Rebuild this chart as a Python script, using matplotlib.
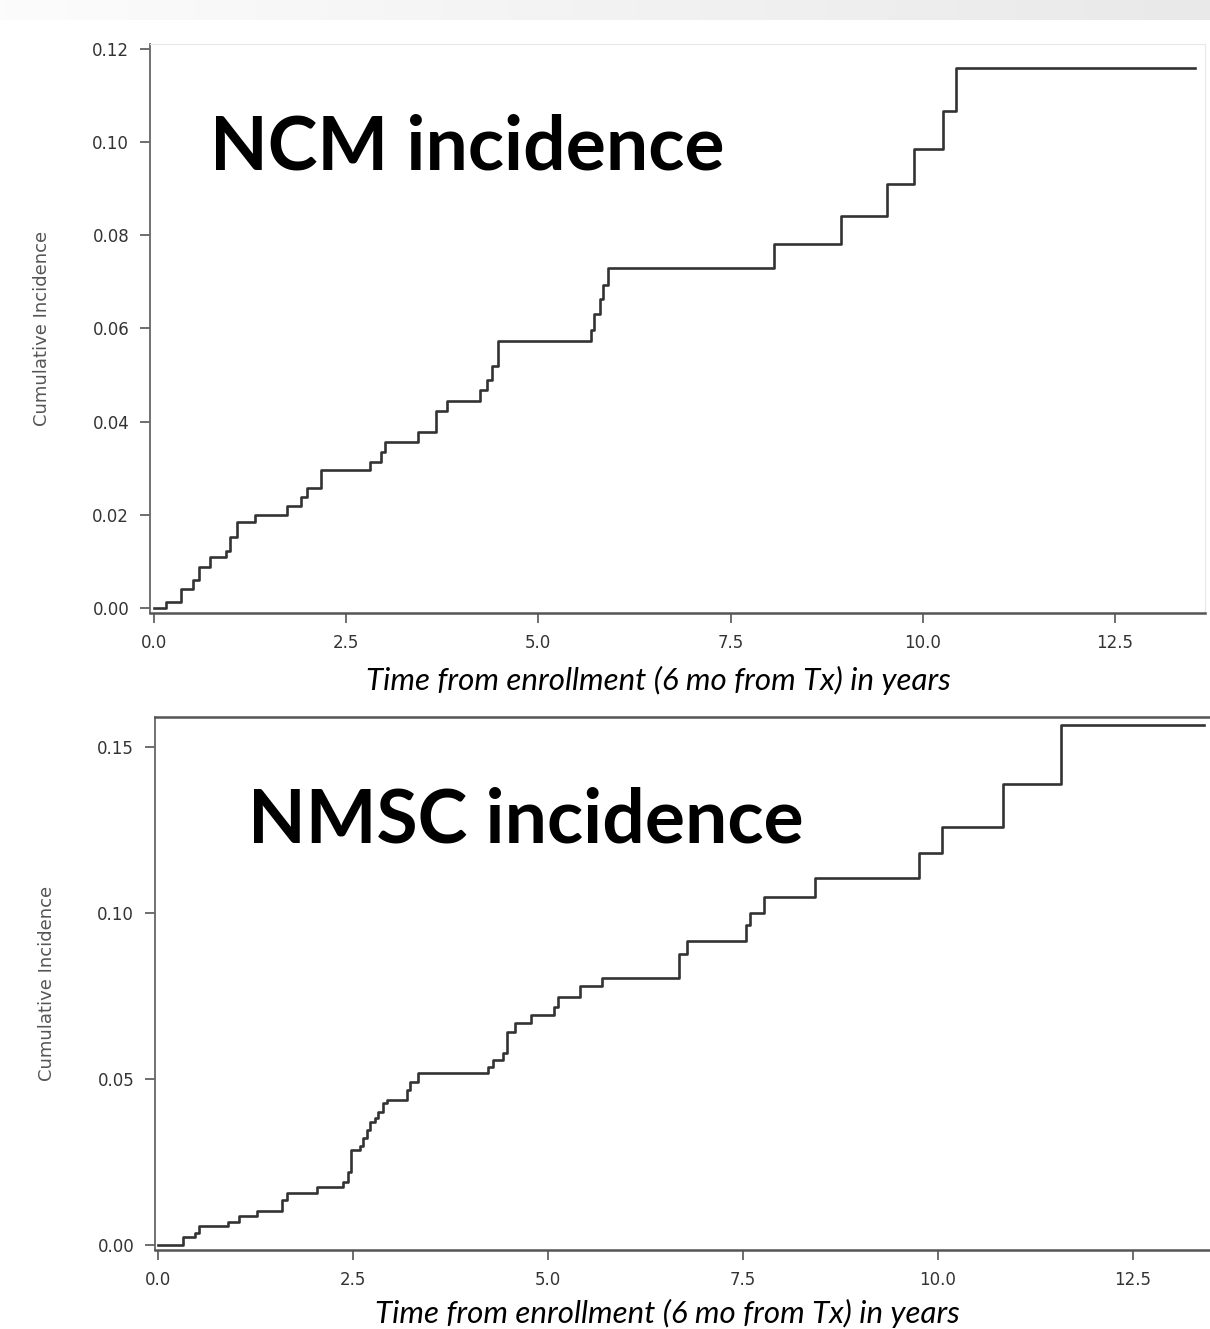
import numpy as np
import matplotlib
matplotlib.use("Agg")
import matplotlib.pyplot as plt
from matplotlib.colors import LinearSegmentedColormap

# cumulative incidence curves
ncm_t = [0, 0.16, 0.35, 0.51, 0.59, 0.73, 0.94, 0.99, 1.08, 1.31, 1.73, 1.91,
         1.99, 2.18, 2.81, 2.96, 3.00, 3.43, 3.67, 3.81, 4.24, 4.33, 4.40, 4.47,
         5.68, 5.72, 5.80, 5.84, 5.90, 8.06, 8.93, 9.54, 9.88, 10.26, 10.43, 13.54]
ncm_ci = [0, 0.0013, 0.004, 0.006, 0.0088, 0.011, 0.0122, 0.0152, 0.0185, 0.020,
          0.0219, 0.0238, 0.0258, 0.0296, 0.0313, 0.0335, 0.0356, 0.0378, 0.0423,
          0.0444, 0.0468, 0.049, 0.052, 0.0572, 0.0597, 0.063, 0.0662, 0.0694,
          0.0729, 0.078, 0.084, 0.091, 0.0985, 0.1067, 0.1159, 0.1159]

nmsc_t = [0, 0.32, 0.47, 0.53, 0.90, 1.04, 1.27, 1.59, 1.65, 2.04, 2.37, 2.44,
          2.47, 2.59, 2.63, 2.68, 2.72, 2.78, 2.82, 2.88, 2.94, 3.19, 3.23, 3.33,
          4.23, 4.29, 4.42, 4.47, 4.58, 4.78, 5.08, 5.13, 5.41, 5.69, 6.68, 6.78,
          7.54, 7.59, 7.77, 8.42, 9.76, 10.05, 10.83, 11.58, 13.41]
nmsc_ci = [0, 0.0024, 0.0036, 0.0057, 0.0069, 0.0087, 0.0102, 0.0135, 0.0157,
           0.0175, 0.019, 0.022, 0.0286, 0.0298, 0.0322, 0.0346, 0.037, 0.0383,
           0.040, 0.0428, 0.0437, 0.0467, 0.049, 0.0518, 0.0536, 0.0557, 0.0578,
           0.064, 0.067, 0.0693, 0.0717, 0.0747, 0.078, 0.0804, 0.0875, 0.0915,
           0.0964, 0.100, 0.1048, 0.1105, 0.118, 0.1259, 0.1389, 0.1566, 0.1566]

x_ticks = [0.0, 2.5, 5.0, 7.5, 10.0, 12.5]
ncm_yticks = [0.00, 0.02, 0.04, 0.06, 0.08, 0.10, 0.12]
nmsc_yticks = [0.00, 0.05, 0.10, 0.15]

xlab = "Time from enrollment (6 mo from Tx) in years"
ylab = "Cumulative Incidence"

tick_font = ["Liberation Sans Narrow", "DejaVu Sans"]
title_font = ["Lato", "DejaVu Sans"]

fig = plt.figure(figsize=(12.1, 13.29), dpi=100)

# light grey band along the top of the slide
band = fig.add_axes([0, 1 - 20 / 1329, 1, 20 / 1329])
band_cmap = LinearSegmentedColormap.from_list("band", ["#fcfcfc", "#e9e9e9"])
band.imshow(np.linspace(0, 1, 256).reshape(1, -1), cmap=band_cmap,
            aspect="auto", extent=[0, 1, 0, 1])
band.axis("off")


def style(ax, yticks, yfmt):
    ax.set_xticks(x_ticks)
    ax.set_xticklabels([f"{v:.1f}" for v in x_ticks])
    ax.set_yticks(yticks)
    ax.set_yticklabels([yfmt.format(v) for v in yticks])
    ax.tick_params(direction="out", length=7, width=1.2, colors="#555555",
                   labelsize=12, pad=8)
    for lab in ax.get_xticklabels() + ax.get_yticklabels():
        lab.set_family(tick_font)
        lab.set_color("#333333")
    ax.spines["left"].set_color("#666666")
    ax.spines["bottom"].set_color("#555555")
    ax.spines["left"].set_linewidth(1.3)
    ax.spines["bottom"].set_linewidth(1.8)


# top panel: NCM
ax1 = fig.add_axes([150 / 1210, 1 - 613 / 1329, 1055 / 1210, 569 / 1329])
ax1.step(ncm_t, ncm_ci, where="post", color="#333333", lw=1.9)
ax1.set_xlim(-0.05, 13.67)
ax1.set_ylim(-0.00107, 0.121)
style(ax1, ncm_yticks, "{:.2f}")
ax1.spines["top"].set_color("#e8e8e8")
ax1.spines["right"].set_color("#e8e8e8")
ax1.text(0.057, 0.818, "NCM incidence", transform=ax1.transAxes, fontsize=54,
         fontweight="bold", family=title_font, va="center", ha="left")
fig.text(658 / 1210, 1 - 680 / 1329, xlab, fontsize=22.5, style="italic",
         family=title_font, ha="center", va="center", color="#000000")
fig.text(42 / 1210, 1 - 328 / 1329, ylab, fontsize=13, rotation=90,
         family=tick_font, ha="center", va="center", color="#555555")

# bottom panel: NMSC
ax2 = fig.add_axes([155 / 1210, 1 - 1250 / 1329, 1055 / 1210, 533 / 1329])
ax2.step(nmsc_t, nmsc_ci, where="post", color="#333333", lw=1.9)
ax2.set_xlim(-0.04, 13.49)
ax2.set_ylim(-0.0015, 0.159)
style(ax2, nmsc_yticks, "{:.2f}")
ax2.spines["right"].set_visible(False)
ax2.spines["top"].set_color("#555555")
ax2.spines["top"].set_linewidth(1.8)
ax2.text(0.088, 0.804, "NMSC incidence", transform=ax2.transAxes, fontsize=54,
         fontweight="bold", family=title_font, va="center", ha="left")
fig.text(667 / 1210, 1 - 1313 / 1329, xlab, fontsize=22.5, style="italic",
         family=title_font, ha="center", va="center", color="#000000")
fig.text(47 / 1210, 1 - 983 / 1329, ylab, fontsize=13, rotation=90,
         family=tick_font, ha="center", va="center", color="#555555")

fig.savefig("out.png", dpi=100)
